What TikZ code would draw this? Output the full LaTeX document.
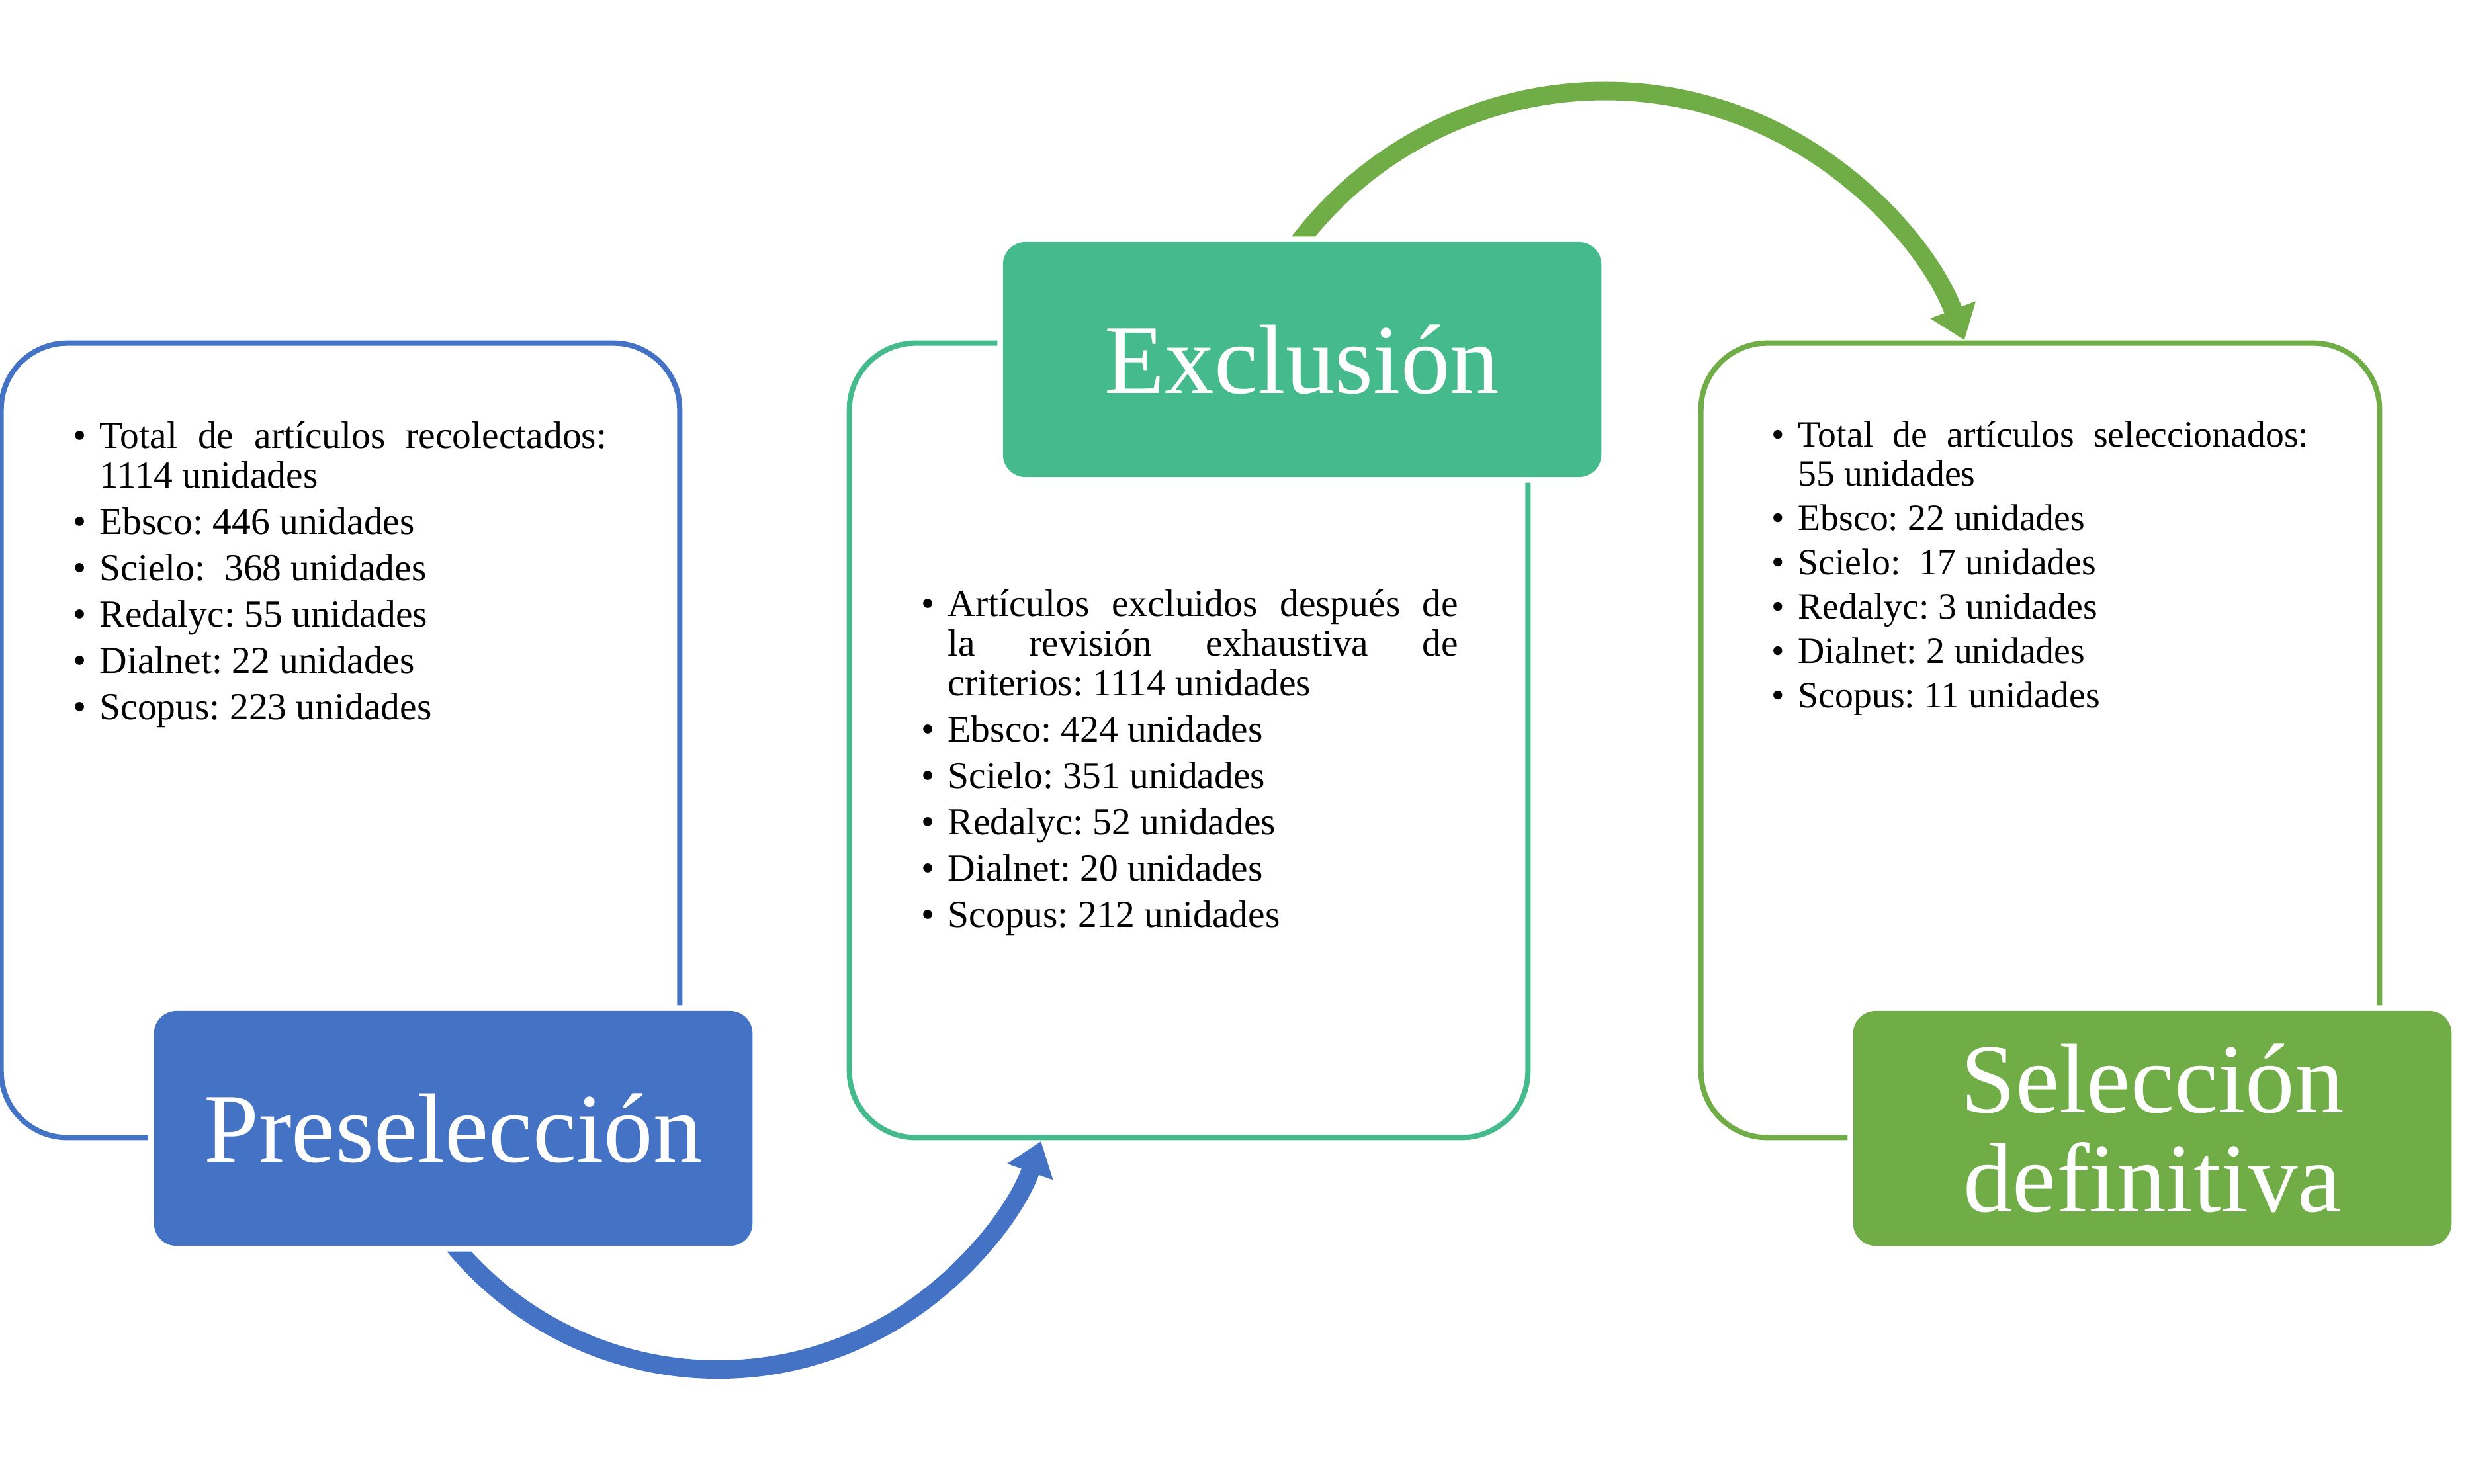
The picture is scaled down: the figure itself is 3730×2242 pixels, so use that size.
\documentclass[tikz,border=0pt]{standalone}
\usepackage{fontspec}
\setmainfont{Liberation Serif}
\usetikzlibrary{arrows.meta}
\definecolor{cblue}{HTML}{4472C4}
\definecolor{cteal}{HTML}{45BB8D}
\definecolor{cgreen}{HTML}{70AD47}
\newcommand{\bitem}[1]{\par\hangindent=0.40cm\hangafter=1\noindent\makebox[0.40cm][l]{\textbullet}#1}
\newcommand{\blist}[5]{\vtop{\hsize=#1\fontsize{#4}{#5}\selectfont\frenchspacing\tolerance=10000\parskip=#2\parindent=0pt #3\par}}
\tikzset{
  outline/.style={draw=#1, line width=0.08cm, rounded corners=1cm, minimum width=10.25cm, minimum height=12cm, inner sep=0pt},
  titlebox/.style={fill=#1, rounded corners=0.34cm, preaction={draw=white, line width=0.17cm},
     minimum width=9.04cm, minimum height=3.55cm, inner sep=0pt, text=white, align=center,
     font=\fontsize{1.49cm}{1.5cm}\selectfont},
  bigarc/.style={draw=#1, line width=0.28cm, -{Triangle[width=0.70cm,length=0.49cm]}},
  listtext/.style={anchor=base west, inner sep=0pt, text=black}
}
\begin{document}
\begin{tikzpicture}[x=0.01cm,y=0.01cm]
\useasboundingbox (0,0) rectangle (3730,-2242);
\fill[white] (0,0) rectangle (3730,-2242);
% outlines
\node[outline=cblue]  (o1) at (514.5,-1119) {};
\node[outline=cteal]  (o2) at (1796.5,-1119) {};
\node[outline=cgreen] (o3) at (3083.5,-1119) {};
% arcs
\coordinate (cb) at (1085,-1552);
\coordinate (cg) at (2425,-718.6);
\draw[bigarc=cblue] ([shift={(215:518)}]cb) arc[start angle=215, end angle=340.5, radius=518];
\draw[bigarc=cgreen] ([shift={(150:581)}]cg) arc[start angle=150, end angle=20.6, radius=581];
% title boxes
\node[titlebox=cblue]  (b1) at (685,-1705.5) {Preselección};
\node[titlebox=cteal]  (b2) at (1968,-543.5) {Exclusión};
\node[titlebox=cgreen] (b3) at (3253,-1705.5) {Selección\\definitiva};
% lists
\node[listtext] (t1) at (110,-677) {\blist{8.06cm}{0.10cm}{%
\bitem{Total de artículos recolectados: 1114 unidades}
\bitem{Ebsco: 446 unidades}
\bitem{Scielo:\ \ 368 unidades}
\bitem{Redalyc: 55 unidades}
\bitem{Dialnet: 22 unidades}
\bitem{Scopus: 223 unidades}}{0.575cm}{0.60cm}};
\node[listtext] (t2) at (1392,-931) {\blist{8.11cm}{0.10cm}{%
\bitem{Artículos excluidos después de\linebreak la revisión exhaustiva de\linebreak criterios: 1114 unidades}
\bitem{Ebsco: 424 unidades}
\bitem{Scielo: 351 unidades}
\bitem{Redalyc: 52 unidades}
\bitem{Dialnet: 20 unidades}
\bitem{Scopus: 212 unidades}}{0.575cm}{0.60cm}};
\node[listtext] (t3) at (2677,-675) {\blist{8.11cm}{0.08cm}{%
\bitem{Total de artículos seleccionados:\linebreak 55 unidades}
\bitem{Ebsco: 22 unidades}
\bitem{Scielo:\ \ 17 unidades}
\bitem{Redalyc: 3 unidades}
\bitem{Dialnet: 2 unidades}
\bitem{Scopus: 11 unidades}}{0.557cm}{0.59cm}};
\end{tikzpicture}
\end{document}
